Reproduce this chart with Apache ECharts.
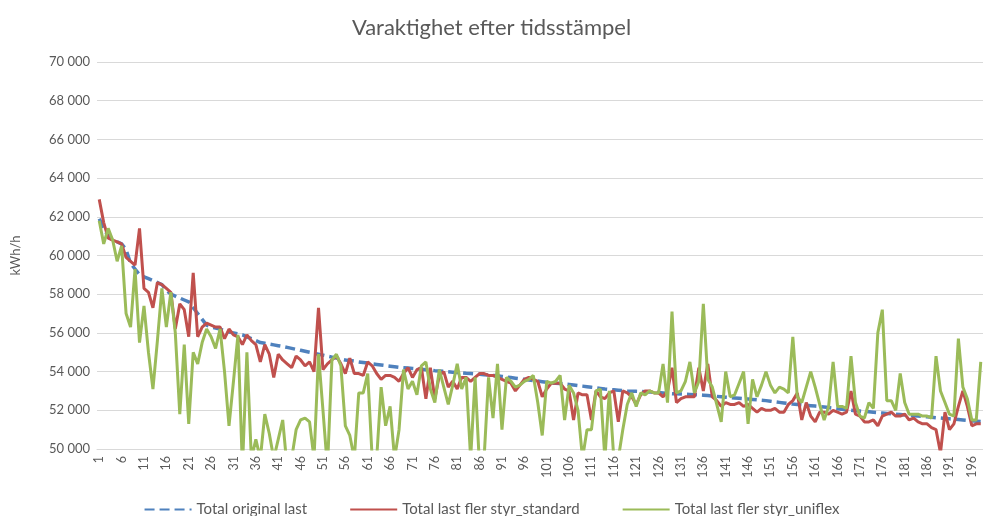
<!DOCTYPE html>
<html>
<head>
<meta charset="utf-8">
<script src="https://cdn.jsdelivr.net/npm/echarts@6/dist/echarts.min.js"></script>
<style>html,body{margin:0;padding:0;background:#fff;}#c{width:983px;height:516px;}</style>
</head>
<body>
<div id="c"></div>
<script>
const titleText = 'Varaktighet efter tidsstämpel';
const yAxisName = 'kWh/h';
const seriesNames = ['Total original last', 'Total last fler styr_standard', 'Total last fler styr_uniflex'];
const yMin = 50000, yMax = 70000, yStep = 2000;
const categories = Array.from({length: 198}, (_, k) => String(k + 1));

const originalLast = [
61900,61400,61000,60800,60700,60600,60300,59600,59300,59000,
58900,58800,58700,58600,58500,58200,58000,57900,57800,57700,
57600,57300,57000,56700,56400,56300,56250,56200,56100,56050,
56000,55950,55900,55800,55700,55600,55500,55460,55420,55380,
55340,55300,55250,55200,55150,55100,55050,55000,54950,54900,
54850,54800,54750,54700,54650,54600,54570,54540,54500,54470,
54440,54400,54370,54340,54310,54280,54250,54220,54200,54180,
54160,54140,54120,54100,54080,54050,54030,54010,53990,53970,
53950,53930,53910,53900,53880,53860,53840,53820,53800,53780,
53750,53720,53690,53660,53630,53600,53570,53540,53510,53480,
53450,53420,53400,53380,53360,53340,53310,53280,53250,53220,
53190,53160,53130,53100,53080,53060,53040,53020,53000,52990,
52980,52970,52960,52950,52940,52920,52900,52880,52860,52850,
52840,52830,52820,52810,52800,52780,52760,52740,52720,52700,
52680,52660,52640,52620,52600,52580,52560,52540,52520,52500,
52470,52440,52410,52380,52350,52320,52300,52280,52260,52240,
52220,52200,52170,52140,52110,52080,52050,52020,52000,51980,
51960,51940,51920,51900,51880,51860,51840,51820,51800,51780,
51760,51740,51720,51700,51680,51660,51640,51620,51600,51580,
51560,51540,51520,51500,51480,51460,51440,51420
];

const standardLast = [
62900,61700,60900,60800,60700,60600,59900,59700,59500,61400,
58300,58100,57300,58600,58500,58300,58100,56200,57500,57200,
55800,59100,55800,56300,56500,56400,56300,56300,55700,56200,
55900,55800,55400,55900,55600,55400,54500,55400,54900,53700,
54900,54600,54400,54200,54800,54600,54300,54500,54000,57300,
54100,54400,54600,54800,54400,53900,54700,53900,53900,53800,
54500,54300,53900,53600,53800,53800,53700,53500,53900,54200,
53700,54100,54200,52600,54200,52600,53800,54000,53200,53500,
53100,53700,53700,53500,53700,53900,53900,53800,53800,53700,
53600,53500,53400,53000,53300,53600,53700,53600,53500,52700,
53100,53400,53400,53400,53100,53000,51500,52900,52800,52800,
51500,53000,52700,52600,52900,53000,51400,53000,52900,52700,
52300,52800,53000,53000,52900,52900,52700,53000,54200,52400,
52600,52700,52700,52700,54200,53000,54400,52700,52500,52200,
52400,52300,52300,52400,52200,52300,52100,51900,52100,52000,
52000,52100,51900,51900,52300,52500,52900,51500,52400,51700,
51400,51900,51900,51800,52000,51900,51800,51900,53000,51800,
51700,51400,51400,51500,51200,51700,51800,51900,51700,51700,
51800,51500,51600,51400,51300,51300,51100,51000,49800,51900,
51000,51300,52200,53000,52200,51200,51300,51300
];

const uniflexLast = [
61800,60600,61400,60800,59700,60500,57000,56300,59300,55500,
57400,55000,53100,55600,58300,56300,58100,56000,51800,55400,
51300,55000,54400,55500,56200,55800,55200,56200,54000,51200,
53500,55900,49000,55000,49500,50500,49500,51800,50800,49500,
50500,51500,49000,49500,51000,51500,51600,51400,49500,54900,
52000,49000,54600,54900,54300,51200,50700,49500,52900,52900,
53900,49500,49500,53200,51200,52200,49500,51000,54100,53100,
53500,52800,54300,54500,53100,52400,54100,53200,52300,53300,
54400,53100,53700,49500,53700,49000,49500,53700,51600,54400,
51000,53700,53500,53200,53300,53500,53600,53800,52400,50700,
53500,53400,53500,53800,51500,53300,52900,52000,49500,51000,
51000,53000,53100,49500,53000,49500,49500,51000,52300,52900,
52200,52900,52800,53000,52900,52900,54400,52400,57100,52900,
53000,53500,54500,52900,53500,57500,53600,53200,52300,51400,
54000,52700,52800,53400,54000,51300,53600,52700,53300,54000,
53300,52900,53200,53100,52900,55800,52700,52400,53200,54000,
53200,52300,51500,52200,54500,52200,52200,52100,54800,52400,
51700,51600,52400,52100,56000,57200,52500,52500,52000,53900,
52400,51800,51800,51800,51700,51700,51600,54800,53000,52400,
51800,51700,55700,53200,52600,51500,51500,54500
];

const colors = ['#4F81BD', '#C0504D', '#9BBB59'];
const fontFam = 'Lato, "Open Sans", sans-serif';
const fmt = v => String(v).replace(/\B(?=(\d{3})+(?!\d))/g, ' ');

const chart = echarts.init(document.getElementById('c'), null, {renderer: 'canvas'});
chart.setOption({
  animation: false,
  backgroundColor: '#ffffff',
  color: colors,
  title: {
    text: titleText, left: 'center', top: 12,
    textStyle: {fontFamily: fontFam, fontSize: 22, fontWeight: 'normal', color: '#595959'}
  },
  legend: {
    top: 497, left: 'center', itemWidth: 47, itemHeight: 6, itemGap: 42,
    itemStyle: {opacity: 0},
    textStyle: {fontFamily: fontFam, fontSize: 15, color: '#595959'},
    data: seriesNames
  },
  grid: {left: 97, right: 0, top: 62, bottom: 67, containLabel: false},
  xAxis: {
    type: 'category', data: categories, boundaryGap: true,
    axisLine: {show: true, lineStyle: {color: '#d9d9d9', width: 1}},
    axisTick: {show: false},
    axisLabel: {interval: 4, rotate: 90, fontFamily: fontFam, fontSize: 12.5, color: '#595959', margin: 7}
  },
  yAxis: {
    type: 'value', min: yMin, max: yMax, interval: yStep,
    name: yAxisName, nameLocation: 'middle', nameRotate: 90, nameGap: 75,
    nameTextStyle: {fontFamily: fontFam, fontSize: 13, color: '#595959'},
    axisLine: {show: false}, axisTick: {show: false},
    axisLabel: {formatter: fmt, fontFamily: fontFam, fontSize: 13, color: '#595959', margin: 7},
    splitLine: {lineStyle: {color: '#d9d9d9', width: 1}}
  },
  series: [
    {name: seriesNames[0], type: 'line', data: originalLast, symbol: 'none',
     lineStyle: {width: 3.5, type: [10, 5], color: colors[0]}},
    {name: seriesNames[1], type: 'line', data: standardLast, symbol: 'none',
     lineStyle: {width: 3, color: colors[1]}},
    {name: seriesNames[2], type: 'line', data: uniflexLast, symbol: 'none',
     lineStyle: {width: 3, color: colors[2]}}
  ]
});
</script>
</body>
</html>
